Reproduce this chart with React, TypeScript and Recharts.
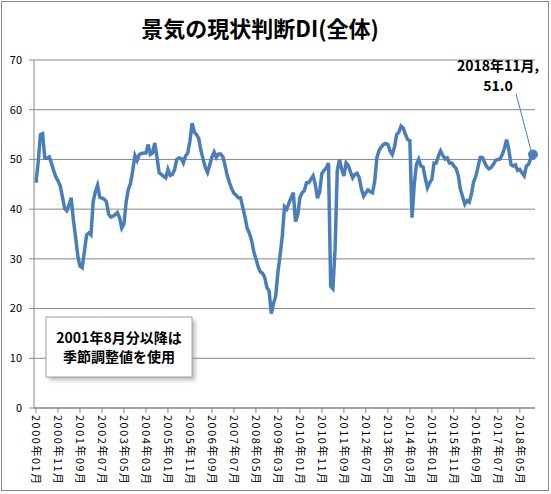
import React from 'react';
import { LineChart, Line, XAxis, YAxis, CartesianGrid, Customized } from 'recharts';

const years = [2000, 2001, 2002, 2003, 2004, 2005, 2006, 2007, 2008, 2009, 2010, 2011, 2012, 2013, 2014, 2015, 2016, 2017, 2018];
const monthNames = ['01', '02', '03', '04', '05', '06', '07', '08', '09', '10', '11', '12'];

const v2000 = [45.3, 49.5, 55.0, 55.2, 50.3, 50.2, 50.5, 49.3, 47.8, 46.5, 45.7, 44.7];
const v2001 = [42.5, 40.2, 39.7, 40.8, 42.3, 37.8, 34.4, 30.6, 28.5, 28.2, 31.5, 34.8];
const v2002 = [35.2, 34.8, 41.5, 43.5, 44.8, 42.4, 42.2, 42.0, 41.5, 39.0, 38.4, 38.6];
const v2003 = [38.9, 39.3, 38.3, 36.2, 37.0, 41.5, 44.0, 45.2, 47.8, 50.8, 49.8, 51.0];
const v2004 = [51.2, 51.3, 51.3, 53.0, 51.0, 51.3, 53.3, 50.5, 47.3, 47.0, 46.6, 46.3];
const v2005 = [48.0, 46.8, 47.0, 47.9, 50.0, 50.3, 50.2, 49.3, 50.7, 51.3, 53.7, 57.3];
const v2006 = [55.5, 55.0, 54.2, 51.8, 50.0, 48.4, 47.4, 48.9, 50.5, 51.5, 50.4, 51.1];
const v2007 = [51.1, 50.5, 48.7, 46.7, 45.3, 44.1, 43.2, 42.8, 42.3, 42.3, 40.4, 38.5];
const v2008 = [36.2, 35.2, 33.8, 31.5, 30.0, 28.5, 27.4, 27.1, 26.3, 24.2, 23.5, 19.0];
const v2009 = [21.0, 22.5, 27.3, 30.7, 34.6, 40.5, 40.0, 41.2, 42.3, 43.3, 37.5, 38.8];
const v2010 = [42.3, 43.3, 43.7, 45.3, 45.3, 46.0, 46.7, 45.0, 42.2, 43.5, 47.2, 47.8];
const v2011 = [48.3, 49.3, 24.5, 24.0, 32.0, 47.8, 50.0, 48.0, 46.7, 49.3, 48.8, 47.5];
const v2012 = [46.3, 47.0, 47.2, 46.3, 44.0, 42.6, 43.3, 43.9, 43.5, 43.3, 45.5, 50.3];
const v2013 = [51.8, 52.5, 53.0, 53.2, 53.0, 51.7, 51.0, 52.5, 55.0, 55.5, 56.7, 56.3];
const v2014 = [55.0, 54.0, 53.8, 38.3, 45.0, 49.0, 50.0, 48.7, 48.5, 46.3, 44.3, 45.3];
const v2015 = [46.0, 49.3, 49.3, 50.7, 51.7, 50.8, 50.1, 50.3, 49.3, 49.3, 48.7, 48.2];
const v2016 = [46.8, 44.0, 42.5, 41.0, 41.7, 41.4, 43.0, 45.5, 46.6, 48.5, 50.4, 50.4];
const v2017 = [49.4, 48.5, 48.1, 48.4, 49.0, 49.8, 50.0, 50.1, 51.0, 52.2, 54.0, 52.0];
const v2018 = [49.0, 48.7, 48.9, 47.8, 48.0, 47.3, 46.7, 48.7, 49.0, 50.3, 51.0];

const valuesByYear = [v2000, v2001, v2002, v2003, v2004, v2005, v2006, v2007, v2008, v2009, v2010, v2011, v2012, v2013, v2014, v2015, v2016, v2017, v2018];

const yTicks = [0, 10, 20, 30, 40, 50, 60, 70];
const titleText = '景気の現状判断DI(全体)';
const noteLines = ['2001年8月分以降は', '季節調整値を使用'];

const data: { month: string; label: string; di: number }[] = [];
years.forEach((y, yi) => {
  valuesByYear[yi].forEach((v, mi) => {
    data.push({ month: `${y}年${monthNames[mi]}月`, label: `${y}年${Number(monthNames[mi])}月`, di: v });
  });
});

const LINE_COLOR = '#4a7ebb';
const GRID_COLOR = '#868686';
const FONT = '"Noto Sans CJK JP", "Noto Sans", sans-serif';

const XTick = (props: any) => {
  const { x, y, payload } = props;
  return (
    <text
      x={x}
      y={y}
      transform={`rotate(90, ${x}, ${y})`}
      textAnchor="start"
      dy="0.36em"
      fontSize={11}
      letterSpacing={1.5}
      fill="#000"
      fontFamily={FONT}
    >
      {payload.value}
    </text>
  );
};

const lastIndex = data.length - 1;

const renderDot = (props: any) => {
  const { cx, cy, index } = props;
  if (index !== lastIndex) return <g key={`d${index}`} />;
  const last = data[lastIndex];
  return (
    <g key={`d${index}`}>
      <line x1={cx - 17} y1={cy - 61} x2={cx - 2} y2={cy - 4} stroke={LINE_COLOR} strokeWidth={1} />
      <circle cx={cx} cy={cy} r={4.5} fill={LINE_COLOR} stroke={LINE_COLOR} strokeWidth={1} />
      <text x={cx - 35} y={cy - 83} textAnchor="middle" fontSize={14} fontWeight="bold" fill="#000" fontFamily={FONT}>
        {`${last.label.replace(/年(\d)月/, '年0$1月')},`}
      </text>
      <text x={cx - 35} y={cy - 63} textAnchor="middle" fontSize={14} fontWeight="bold" fill="#000" fontFamily={FONT}>
        {last.di.toFixed(1)}
      </text>
    </g>
  );
};

const Decorations = () => (
  <g>
    <defs>
      <filter id="shadowBlur" x="-20%" y="-20%" width="140%" height="140%">
        <feGaussianBlur stdDeviation="2" />
      </filter>
    </defs>
    <rect x={1.5} y={1.5} width={547} height={489} fill="none" stroke={GRID_COLOR} strokeWidth={1} />
    <text x={260} y={37} textAnchor="middle" fontSize={22} fontWeight="bold" fill="#000" fontFamily={FONT}>
      {titleText}
    </text>
    <rect x={49} y={320} width={146} height={60} fill="#9a9a9a" opacity={0.7} filter="url(#shadowBlur)" />
    <rect x={46} y={317} width={146} height={60} fill="#ffffff" stroke="#a0a0a0" strokeWidth={1} />
    <text x={119} y={343} textAnchor="middle" fontSize={14} fontWeight="bold" fill="#000" fontFamily={FONT}>
      {noteLines[0]}
    </text>
    <text x={119} y={362} textAnchor="middle" fontSize={14} fontWeight="bold" fill="#000" fontFamily={FONT}>
      {noteLines[1]}
    </text>
  </g>
);

export default function App() {
  return (
    <div style={{ position: 'absolute', left: 0, top: 0, width: 551, height: 494, background: '#fff' }}>
      <LineChart
        width={551}
        height={494}
        data={data}
        margin={{ top: 60, right: 16, bottom: 6, left: 0 }}
        style={{ fontFamily: FONT }}
      >
        <CartesianGrid vertical={false} stroke={GRID_COLOR} strokeDasharray="" />
        <XAxis
          dataKey="month"
          interval={9}
          padding={{ left: 2, right: 2 }}
          height={80}
          tickSize={5}
          tickMargin={2}
          tick={<XTick />}
          axisLine={{ stroke: GRID_COLOR }}
          tickLine={{ stroke: GRID_COLOR }}
        />
        <YAxis
          domain={[0, 70]}
          ticks={yTicks}
          width={34}
          tickSize={5}
          tickMargin={7}
          axisLine={{ stroke: GRID_COLOR }}
          tickLine={{ stroke: GRID_COLOR }}
          tick={{ fontSize: 11, fill: '#000', fontFamily: FONT }}
          interval={0}
        />
        <Line
          type="linear"
          dataKey="di"
          stroke={LINE_COLOR}
          strokeWidth={3.5}
          dot={renderDot}
          activeDot={false}
          isAnimationActive={false}
        />
        <Customized component={Decorations} />
      </LineChart>
    </div>
  );
}
